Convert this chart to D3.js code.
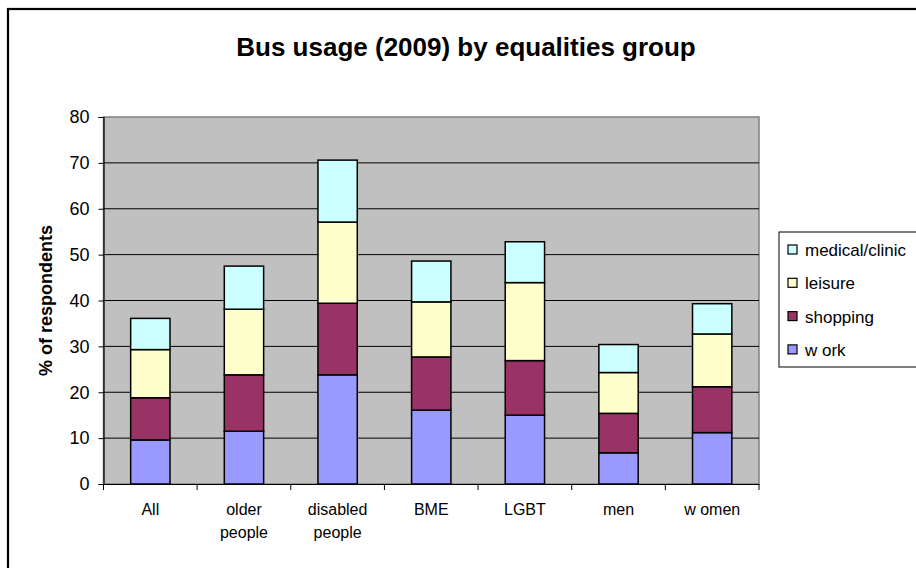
<!DOCTYPE html>
<html>
<head>
<meta charset="utf-8">
<script src="https://cdn.jsdelivr.net/npm/d3@7"></script>
<style>
  body { margin: 0; background: #fff; }
  text { font-family: "Liberation Sans", Arial, sans-serif; }
</style>
</head>
<body>
<div id="chart-area"></div>
<script>
// data
const groups = ["All", "older people", "disabled people", "BME", "LGBT", "men", "women"]
const groupLines = [["All"], ["older", "people"], ["disabled", "people"], ["BME"], ["LGBT"], ["men"], ["w omen"]]
const series = ["work", "shopping", "leisure", "medical/clinic"]
const work = [9.6, 11.5, 23.8, 16.1, 15.0, 6.8, 11.2]
const shopping = [9.2, 12.3, 15.6, 11.6, 11.9, 8.6, 10.0]
const leisure = [10.5, 14.3, 17.7, 12.0, 17.0, 8.9, 11.5]
const medical = [6.8, 9.4, 13.5, 8.9, 8.9, 6.1, 6.6]
const yTicks = [0, 10, 20, 30, 40, 50, 60, 70, 80]
const legendNames = ["medical/clinic", "leisure", "shopping", "w ork"]

const colors = {
  "work": "#9999FF",
  "shopping": "#993366",
  "leisure": "#FFFFCC",
  "medical/clinic": "#CCFFFF"
}

const W = 916, H = 568
const MARGIN = { LEFT: 103.5, RIGHT: 157, TOP: 117, BOTTOM: 84 }
const WIDTH = W - MARGIN.LEFT - MARGIN.RIGHT
const HEIGHT = H - MARGIN.TOP - MARGIN.BOTTOM

const svg = d3.select("#chart-area").append("svg")
  .attr("width", W)
  .attr("height", H)

// outer chart frame (right and bottom edges fall outside the picture)
svg.append("rect")
  .attr("x", 8).attr("y", 9)
  .attr("width", W + 10).attr("height", H + 10)
  .attr("fill", "#fff")
  .attr("stroke", "#000")
  .attr("stroke-width", 2.2)

svg.append("text")
  .attr("x", 466)
  .attr("y", 56)
  .attr("text-anchor", "middle")
  .attr("font-size", "26px")
  .attr("font-weight", "bold")
  .text("Bus usage (2009) by equalities group")

const g = svg.append("g")
  .attr("transform", `translate(${MARGIN.LEFT}, ${MARGIN.TOP})`)

// scales
const x = d3.scaleBand()
  .domain(groups)
  .range([0, WIDTH])
  .paddingInner(0.58)
  .paddingOuter(0.29)
const xOuter = d3.scaleBand().domain(groups).range([0, WIDTH])
const y = d3.scaleLinear()
  .domain([0, 80])
  .range([HEIGHT, 0])

// plot area
g.append("rect")
  .attr("width", WIDTH)
  .attr("height", HEIGHT)
  .attr("fill", "#C0C0C0")
  .attr("stroke", "#808080")
  .attr("stroke-width", 1.5)

// gridlines
g.selectAll(".grid")
  .data(yTicks.filter(d => d > 0 && d < 80))
  .enter().append("line")
  .attr("x1", 0).attr("x2", WIDTH)
  .attr("y1", d => y(d)).attr("y2", d => y(d))
  .attr("stroke", "#000")
  .attr("stroke-width", 1)

// stacked bars
const table = groups.map((grp, i) => ({
  group: grp,
  "work": work[i],
  "shopping": shopping[i],
  "leisure": leisure[i],
  "medical/clinic": medical[i]
}))
const stacked = d3.stack().keys(series)(table)

g.selectAll(".layer")
  .data(stacked)
  .enter().append("g")
  .attr("fill", d => colors[d.key])
  .selectAll("rect")
  .data(d => d)
  .enter().append("rect")
  .attr("x", d => x(d.data.group))
  .attr("width", x.bandwidth())
  .attr("y", d => y(d[1]))
  .attr("height", d => y(d[0]) - y(d[1]))
  .attr("stroke", "#000")
  .attr("stroke-width", 1.5)

// y axis
const yAxis = g.append("g")
  .call(d3.axisLeft(y).tickValues(yTicks).tickSize(5).tickPadding(9))
yAxis.select(".domain").attr("stroke", "#000").attr("stroke-width", 1.2)
yAxis.selectAll("text")
  .attr("font-size", "18px")
  .attr("font-family", "Liberation Sans, Arial, sans-serif")
  .attr("fill", "#000")

// x axis
const xAxis = g.append("g")
  .attr("transform", `translate(0, ${HEIGHT})`)
  .call(d3.axisBottom(xOuter).tickSize(0).tickFormat(""))
xAxis.select(".domain").attr("stroke", "#000").attr("stroke-width", 1.2)
xAxis.selectAll(".tick").remove()

const boundaries = d3.range(groups.length + 1).map(i => i * xOuter.step())
xAxis.selectAll(".sep")
  .data(boundaries)
  .enter().append("line")
  .attr("x1", d => d).attr("x2", d => d)
  .attr("y1", 0).attr("y2", 6)
  .attr("stroke", "#000")

groups.forEach((grp, i) => {
  const label = xAxis.append("text")
    .attr("x", xOuter(grp) + xOuter.bandwidth() / 2)
    .attr("y", 31)
    .attr("text-anchor", "middle")
    .attr("font-size", "16px")
    .attr("fill", "#000")
  groupLines[i].forEach((line, j) => {
    label.append("tspan")
      .attr("x", xOuter(grp) + xOuter.bandwidth() / 2)
      .attr("dy", j === 0 ? 0 : 23)
      .text(line)
  })
})

// y label
svg.append("text")
  .attr("transform", `translate(52, ${MARGIN.TOP + HEIGHT / 2}) rotate(-90)`)
  .attr("text-anchor", "middle")
  .attr("font-size", "18px")
  .attr("font-weight", "bold")
  .text("% of respondents")

// legend
const legend = svg.append("g")
  .attr("transform", "translate(779, 232)")
legend.append("rect")
  .attr("width", 160)
  .attr("height", 135)
  .attr("fill", "#fff")
  .attr("stroke", "#000")
  .attr("stroke-width", 1)

const legendKeys = ["medical/clinic", "leisure", "shopping", "work"]
legendKeys.forEach((key, i) => {
  const row = legend.append("g")
    .attr("transform", `translate(9, ${18 + i * 33.3})`)
  row.append("rect")
    .attr("y", -5)
    .attr("width", 9)
    .attr("height", 9)
    .attr("fill", colors[key])
    .attr("stroke", "#000")
    .attr("stroke-width", 1.2)
  row.append("text")
    .attr("x", 17)
    .attr("y", 6)
    .attr("font-size", "17px")
    .text(legendNames[i])
})
</script>
</body>
</html>
